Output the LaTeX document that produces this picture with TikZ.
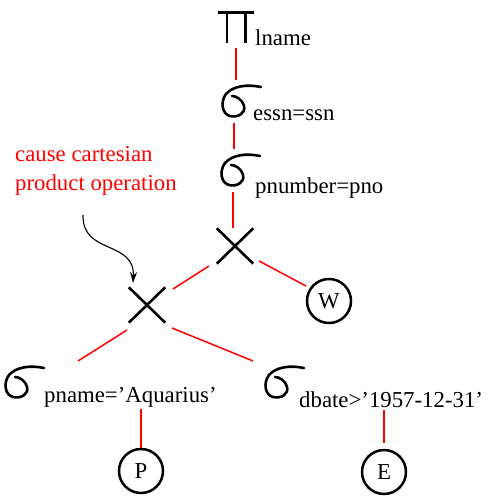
\documentclass[tikz,border=0pt]{standalone}
\usepackage{fontspec}
\setmainfont{Liberation Serif}
\usetikzlibrary{arrows.meta}
\begin{document}
\begin{tikzpicture}[x=1pt,y=-1pt,
  sym/.style={line width=2.6pt},
  conn/.style={red,line width=1.5pt},
  lbl/.style={anchor=base west,inner sep=0pt,font=\fontsize{22.8}{26}\selectfont},
  note/.style={anchor=base west,inner sep=0pt,red,font=\fontsize{22.8}{26}\selectfont},
  rel/.style={circle,draw,line width=2.5pt,minimum size=44pt,inner sep=0pt,font=\fontsize{22.8}{26}\selectfont},
  crossbox/.style={minimum width=36pt,minimum height=35pt,inner sep=0pt},
  sigbox/.style={minimum width=26pt,minimum height=32pt,inner sep=0pt,anchor=north west},
  pibox/.style={minimum width=36pt,minimum height=30pt,inner sep=0pt},
  sigma/.pic={\draw[sym,line cap=round] (40,2) .. controls (26,-1) and (12,1) .. (5,9)
     .. controls (-1,17) and (1,29) .. (9,31) .. controls (17,33) and (25,28) .. (23,21)
     .. controls (21,14) and (15,11) .. (11,11);}
]
\useasboundingbox (0,0) rectangle (487,497);
% projection
\node[pibox] (pi) at (236,28) {};
\draw[sym] (pi.north west) -- (pi.north east);
\draw[sym] ([xshift=9pt]pi.north west) -- ([xshift=9pt]pi.south west);
\draw[sym] ([xshift=-9pt]pi.north east) -- ([xshift=-9pt]pi.south east);
\node[lbl] (l0) at (255,46) {lname};
% selections
\node[sigbox] (s1) at (221,85) {};
\pic at (s1.north west) {sigma};
\node[lbl] (l1) at (253,121) {essn=ssn};
\node[sigbox] (s2) at (220,154) {};
\pic at (s2.north west) {sigma};
\node[lbl] (l2) at (255,193) {pnumber=pno};
% crosses
\node[crossbox] (x1) at (235,246) {};
\draw[sym] (x1.north west) -- (x1.south east) (x1.north east) -- (x1.south west);
\node[crossbox] (x2) at (147,305) {};
\draw[sym] (x2.north west) -- (x2.south east) (x2.north east) -- (x2.south west);
% lower selections
\node[sigbox] (s3) at (4,366) {};
\pic at (s3.north west) {sigma};
\node[lbl] (l3) at (44,402) {pname=’Aquarius’};
\node[sigbox] (s4) at (264,366) {};
\pic at (s4.north west) {sigma};
\node[lbl] (l4) at (299,407) {dbate>’1957-12-31’};
% relations
\node[rel] (w) at (329,301) {W};
\node[rel] (p) at (141,471) {P};
\node[rel] (e) at (384,472) {E};
% connectors
\draw[conn] ([yshift=-5pt]pi.south) -- ([yshift=5pt]pi.south |- s1.north);
\draw[conn] ([yshift=-6pt]s1.south) -- ([yshift=5pt]s1.south |- s2.north);
\draw[conn] ([yshift=-6pt]s2.south) -- (s2.south |- x1.north);
\draw[conn] ([shift={(24,15)}]x1.center) -- ([shift={(-23,-15)}]w.center);
\draw[conn] ([shift={(-26,20)}]x1.center) -- ([shift={(26,-16)}]x2.center);
\draw[conn] ([shift={(-20,25)}]x2.center) -- ([shift={(74,-5)}]s3.north west);
\draw[conn] ([shift={(25,23)}]x2.center) -- ([shift={(-11,-5)}]s4.north west);
\draw[conn,shorten <=2pt] (l3.south -| p.north) -- (p.north);
\draw[conn,shorten <=3pt,shorten >=6pt] (l4.south -| e.north) -- (e.north);
% annotation
\node[note] (n1) at (15,161) {cause cartesian};
\node[note] (n2) at (15,190) {product operation};
\coordinate (a0) at (83,215);
\draw[line width=1.1pt,-{Stealth[length=11pt,width=7pt]}] (a0) .. controls (82,255) and (135,240) .. ([shift={(-14,-22)}]x2.center);
\end{tikzpicture}
\end{document}
